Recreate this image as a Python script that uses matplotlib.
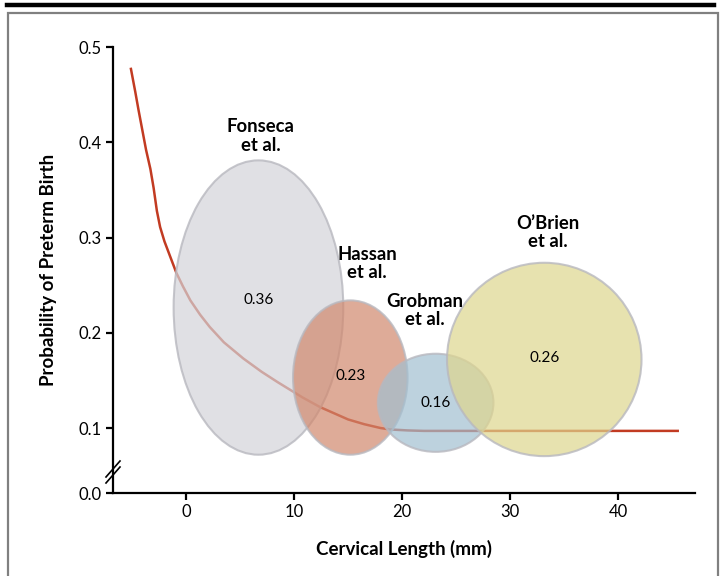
import numpy as np
import matplotlib
matplotlib.use('Agg')
import matplotlib.pyplot as plt
from matplotlib.patches import Ellipse, Rectangle
from matplotlib.lines import Line2D

plt.rcParams['font.family'] = ['Lato', 'DejaVu Sans']

# fitted curve (cervical length mm, probability)
curve_x = [-5.1, -4.7, -4.4, -4.0, -3.7, -3.3, -3.0, -2.7, -2.4, -2.0, -1.6, -1.2, -0.9, -0.3, 0.4,
           1.3, 2.2, 3.5, 5.3, 7.0, 8.5, 10.8, 12.4, 14.0, 15.0, 16.5, 18.0, 18.9, 20.5, 22.0, 45.5]
curve_y = [0.477, 0.453, 0.434, 0.410, 0.392, 0.372, 0.352, 0.328, 0.311, 0.296, 0.284, 0.272, 0.263,
           0.249, 0.234, 0.219, 0.206, 0.190, 0.173, 0.159, 0.148, 0.132, 0.122, 0.114, 0.109, 0.104,
           0.100, 0.0985, 0.0975, 0.097, 0.097]

# studies: label, ellipse centre, width (mm), height (probability), value shown inside
studies = ['Fonseca\net al.', 'Hassan\net al.', 'Grobman\net al.', 'O\u2019Brien\net al.']
cx = [6.7, 15.2, 23.1, 33.15]
cy = [0.2265, 0.153, 0.1265, 0.172]
widths = [15.7, 10.6, 10.7, 18.0]
heights = [0.309, 0.162, 0.103, 0.203]
values = ['0.36', '0.23', '0.16', '0.26']
value_y = [0.234, 0.1546, 0.126, 0.1735]
label_x = [6.9, 16.76, 22.1, 33.5]
label_y = [0.4066, 0.2727, 0.2234, 0.3053]
colors = ['#d3d4d9', '#d1886d', '#a2bfd0', '#ded68e']

y0_pos = 0.0318  # where "0.0" sits below the axis break

fig = plt.figure(figsize=(7.22, 5.76), dpi=100)

# frame and top rule
fig.add_artist(Rectangle((8 / 722, -0.1), 710 / 722, 1.1 - 13 / 576, transform=fig.transFigure,
                         fill=False, edgecolor='#808080', linewidth=1.6))
fig.add_artist(Line2D([7 / 722, 714 / 722], [1 - 5 / 576, 1 - 5 / 576], transform=fig.transFigure,
                      color='black', linewidth=3.2))

ax = fig.add_axes([113 / 722, 1 - 493 / 576, (695 - 113) / 722, (493 - 47) / 576])
ax.set_xlim(-6.76, 47.1)
ax.set_ylim(y0_pos, 0.5)

ax.plot(curve_x, curve_y, color='#c23b22', linewidth=1.8, zorder=1)

for i in range(len(studies)):
    e = Ellipse((cx[i], cy[i]), widths[i], heights[i],
                facecolor=matplotlib.colors.to_rgba(colors[i], 0.7),
                edgecolor=(0.72, 0.72, 0.75, 0.8), linewidth=1.5, zorder=2 + i)
    ax.add_patch(e)
    ax.text(cx[i], value_y[i], values[i], ha='center', va='center', fontsize=11, zorder=10)
    ax.text(label_x[i], label_y[i], studies[i], ha='center', va='center', fontsize=13.3,
            fontweight='bold', linespacing=1.1, zorder=10)

for s in ['top', 'right']:
    ax.spines[s].set_visible(False)
for s in ['left', 'bottom']:
    ax.spines[s].set_linewidth(1.6)

ax.set_xticks([0, 10, 20, 30, 40])
ax.set_yticks([y0_pos, 0.1, 0.2, 0.3, 0.4, 0.5])
ax.set_yticklabels(['0.0', '0.1', '0.2', '0.3', '0.4', '0.5'])
ax.tick_params(direction='out', length=5, width=1.6, labelsize=12, pad=3)

# axis break marks (two slashes across the y axis)
bx, by = 113, 472
for off in [-3, 3]:
    ax.add_artist(Line2D([(bx - 7) / 722, (bx + 7) / 722],
                         [1 - (by + off + 8) / 576, 1 - (by + off - 8) / 576],
                         transform=fig.transFigure, color='black', linewidth=1.2, clip_on=False))

ax.set_xlabel('Cervical Length (mm)', fontsize=13.5, fontweight='bold', labelpad=14)
ax.set_ylabel('Probability of Preterm Birth', fontsize=13.5, fontweight='bold', labelpad=16)

fig.savefig('out.png', dpi=100)
